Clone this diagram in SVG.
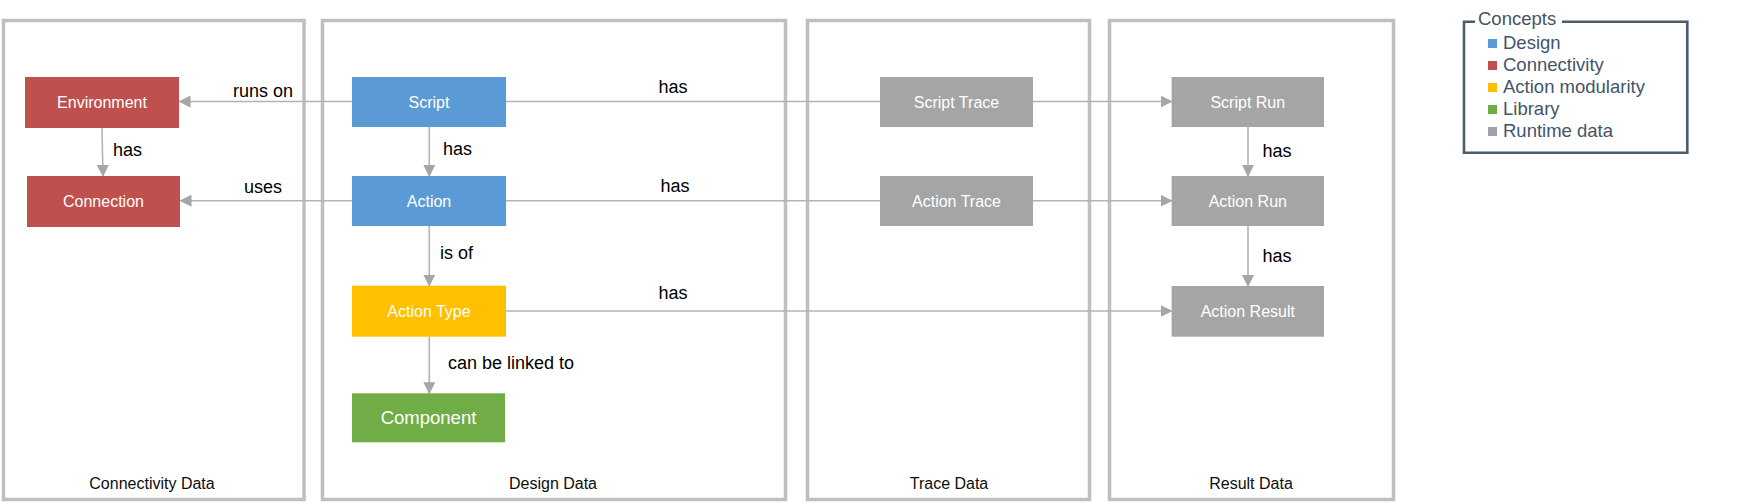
<svg xmlns="http://www.w3.org/2000/svg" width="1748" height="504" viewBox="0 0 1748 504">
<style>
.panel{fill:#fff;stroke:#bfbfbf;stroke-width:3.5}
.plabel{font-family:"Liberation Sans",Arial,sans-serif;font-size:16px;fill:#0d0d0d;text-anchor:middle}
.ntext{font-family:"Liberation Sans",Arial,sans-serif;font-size:16px;fill:#fff;text-anchor:middle}
.elabel{font-family:"Liberation Sans",Arial,sans-serif;font-size:18px;fill:#000}
.conn{stroke:#b3b3b3;stroke-width:1.6;fill:none;marker-end:url(#arr)}
.leg{font-family:"Liberation Sans",Arial,sans-serif;font-size:18.5px;fill:#44546a}
</style>
<defs>
<marker id="arr" viewBox="0 0 12 12" refX="11" refY="6" markerWidth="12" markerHeight="12" markerUnits="userSpaceOnUse" orient="auto">
<path d="M0,0 L12,6 L0,12 Z" fill="#a6a6a6"/>
</marker>
</defs>
<rect width="1748" height="504" fill="#fff"/>
<g id="panels">
<rect class="panel" x="3.5" y="20.5" width="300.5" height="479"/>
<rect class="panel" x="322.5" y="20.5" width="463" height="479"/>
<rect class="panel" x="807.5" y="20.5" width="282" height="479"/>
<rect class="panel" x="1109.5" y="20.5" width="284" height="479"/>
<text class="plabel" x="152" y="489">Connectivity Data</text>
<text class="plabel" x="553" y="489">Design Data</text>
<text class="plabel" x="949" y="489">Trace Data</text>
<text class="plabel" x="1251" y="489">Result Data</text>
</g>
<g id="connectors">
<line class="conn" x1="352" y1="101.5" x2="179.5" y2="101.5"/>
<line class="conn" x1="352" y1="200.7" x2="180.5" y2="200.7"/>
<line class="conn" x1="102" y1="128" x2="103" y2="176"/>
<line class="conn" x1="429.3" y1="127" x2="429.3" y2="176"/>
<line class="conn" x1="429.3" y1="226" x2="429.3" y2="285.7"/>
<line class="conn" x1="429.3" y1="336.7" x2="429.3" y2="393.3"/>
<line class="conn" x1="506" y1="101.5" x2="1171.6" y2="101.5"/>
<line class="conn" x1="506" y1="200.7" x2="1171.6" y2="200.7"/>
<line class="conn" x1="506" y1="311" x2="1171.6" y2="311"/>
<line class="conn" x1="1248" y1="127" x2="1248" y2="176"/>
<line class="conn" x1="1248" y1="226" x2="1248" y2="286"/>
<text class="elabel" x="263" y="97" text-anchor="middle">runs on</text>
<text class="elabel" x="113" y="156">has</text>
<text class="elabel" x="263" y="193" text-anchor="middle">uses</text>
<text class="elabel" x="443" y="155">has</text>
<text class="elabel" x="440" y="259">is of</text>
<text class="elabel" x="448" y="369">can be linked to</text>
<text class="elabel" x="673" y="93" text-anchor="middle">has</text>
<text class="elabel" x="675" y="192" text-anchor="middle">has</text>
<text class="elabel" x="673" y="299" text-anchor="middle">has</text>
<text class="elabel" x="1262.5" y="157">has</text>
<text class="elabel" x="1262.5" y="261.7">has</text>
</g>
<g id="environment"><rect x="25" y="77" width="154" height="51" fill="#c0504d"/><text class="ntext" x="102" y="108">Environment</text></g>
<g id="connection"><rect x="27" y="176" width="153" height="51" fill="#c0504d"/><text class="ntext" x="103.5" y="207">Connection</text></g>
<g id="script"><rect x="352" y="77" width="154" height="50" fill="#5b9bd5"/><text class="ntext" x="429" y="107.5">Script</text></g>
<g id="action"><rect x="352" y="176" width="154" height="50" fill="#5b9bd5"/><text class="ntext" x="429" y="206.5">Action</text></g>
<g id="action-type"><rect x="352" y="285.7" width="154" height="51" fill="#ffc000"/><text class="ntext" x="429" y="316.7">Action Type</text></g>
<g id="component"><rect x="352" y="393.3" width="153" height="49" fill="#70ad47"/><text class="ntext" x="428.5" y="424.4" style="font-size:18.5px">Component</text></g>
<g id="script-trace"><rect x="880" y="77" width="153" height="50" fill="#a5a5a5"/><text class="ntext" x="956.5" y="107.5">Script Trace</text></g>
<g id="action-trace"><rect x="880" y="176" width="153" height="50" fill="#a5a5a5"/><text class="ntext" x="956.5" y="206.5">Action Trace</text></g>
<g id="script-run"><rect x="1171.6" y="77" width="152.4" height="50" fill="#a5a5a5"/><text class="ntext" x="1247.8" y="107.5">Script Run</text></g>
<g id="action-run"><rect x="1171.6" y="176" width="152.4" height="50" fill="#a5a5a5"/><text class="ntext" x="1247.8" y="206.5">Action Run</text></g>
<g id="action-result"><rect x="1171.6" y="286" width="152.4" height="50.7" fill="#a5a5a5"/><text class="ntext" x="1247.8" y="316.8">Action Result</text></g>
<g id="legend">
<path d="M1475,21.7 H1464 V152.7 H1687.3 V21.7 H1562" fill="none" stroke="#4e5b6b" stroke-width="2.6"/>
<text class="leg" x="1478" y="25">Concepts</text>
<rect x="1488" y="39" width="9" height="9" fill="#5b9bd5"/>
<text class="leg" x="1503" y="49">Design</text>
<rect x="1488" y="61" width="9" height="9" fill="#c0504d"/>
<text class="leg" x="1503" y="71">Connectivity</text>
<rect x="1488" y="83" width="9" height="9" fill="#ffc000"/>
<text class="leg" x="1503" y="93">Action modularity</text>
<rect x="1488" y="105" width="9" height="9" fill="#70ad47"/>
<text class="leg" x="1503" y="115">Library</text>
<rect x="1488" y="127" width="9" height="9" fill="#9ea3ab"/>
<text class="leg" x="1503" y="137">Runtime data</text>
</g>
</svg>
